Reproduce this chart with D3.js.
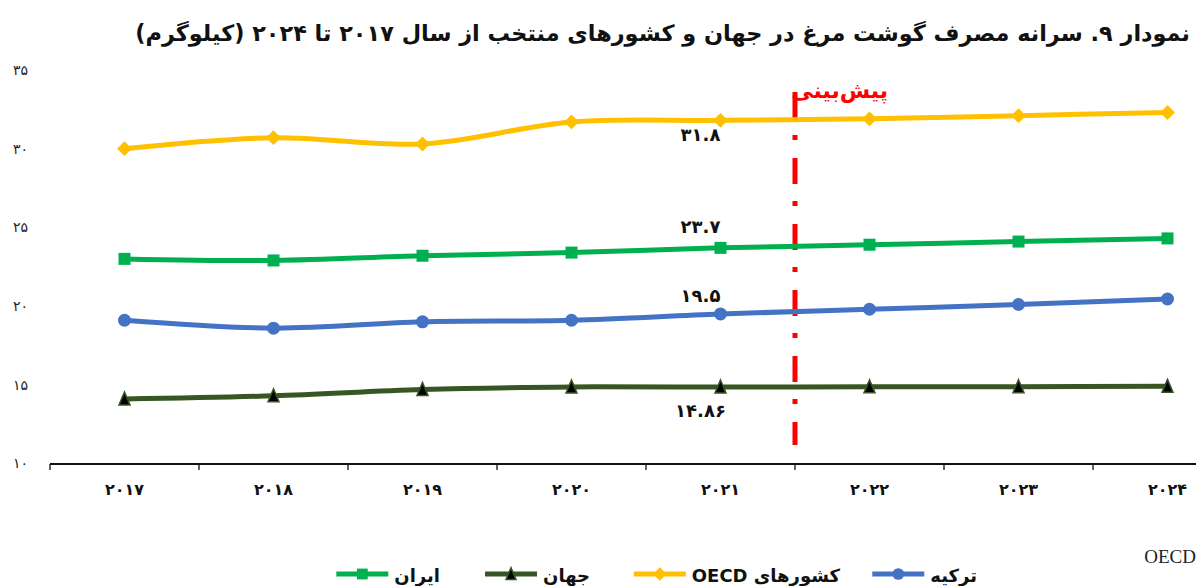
<!DOCTYPE html>
<html>
<head>
<meta charset="utf-8">
<style>
    body { margin: 0; background: white; }
    svg { display: block; }
    .x .domain { display: none; }
    .y .domain { display: none; }
    .y .tick line { display: none; }
    .x .tick line { display: none; }
    .y .tick text { font-size: 14px; fill: #222; font-family: 'DejaVu Sans', sans-serif; }
    .x .tick text { font-size: 16px; font-weight: bold; fill: #111; font-family: 'DejaVu Sans', sans-serif; }
</style>
</head>
<body>
<svg width="1196" height="586"></svg>

<script src="https://d3js.org/d3.v7.min.js"></script>
<script>
    // data
    let years = ["2017", "2018", "2019", "2020", "2021", "2022", "2023", "2024"];
    let oecd = [30.0, 30.7, 30.3, 31.7, 31.8, 31.9, 32.1, 32.3];
    let iran = [23.0, 22.9, 23.2, 23.4, 23.7, 23.9, 24.1, 24.3];
    let turkey = [19.1, 18.6, 19.0, 19.1, 19.5, 19.8, 20.1, 20.45];
    let world = [14.1, 14.3, 14.7, 14.86, 14.86, 14.87, 14.88, 14.9];
    let yTicks = [10, 15, 20, 25, 30, 35];
    let valueLabels = ["31.8", "23.7", "19.5", "14.86"];

    let fa = s => String(s).replace(/\d/g, d => "۰۱۲۳۴۵۶۷۸۹"[d]);
    let font = "'DejaVu Sans', sans-serif";

    let svg = d3.select("svg");

    // band is 149px wide, the last one runs off the right edge
    let x = d3.scaleBand().domain(years).range([50, 50 + 149 * years.length]);
    let y = d3.scaleLinear().domain([10, 35]).range([463.5, 70]);
    let cx = d => x(d) + x.bandwidth() / 2;

    let series = [
        { name: "ترکیه", values: turkey, color: "#4472C4", marker: "circle", label: valueLabels[2], dy: -12 },
        { name: "کشورهای OECD", values: oecd, color: "#FFC000", marker: "diamond", label: valueLabels[0], dy: 21 },
        { name: "جهان", values: world, color: "#375623", marker: "triangle", label: valueLabels[3], dy: 30 },
        { name: "ایران", values: iran, color: "#00B050", marker: "square", label: valueLabels[1], dy: -15 }
    ];

    // title, font size fitted so it spans about 1055px
    let title = svg.append("text")
        .text("نمودار ۹. سرانه مصرف گوشت مرغ در جهان و کشورهای منتخب از سال ۲۰۱۷ تا ۲۰۲۴ (کیلوگرم)")
        .attr("x", 1190)
        .attr("y", 41)
        .attr("direction", "rtl")
        .attr("text-anchor", "start")
        .attr("font-family", font)
        .attr("font-weight", "bold")
        .attr("font-size", "22px")
        .attr("fill", "#111");
    let tw = title.node().getComputedTextLength();
    title.attr("font-size", (22 * 1055 / tw).toFixed(2) + "px");

    // axes
    let yAxis = svg.append("g")
        .attr("class", "y axis")
        .attr("transform", "translate(28,0)")
        .call(d3.axisLeft(y).tickValues(yTicks).tickSize(0).tickPadding(0).tickFormat(fa));
    yAxis.selectAll("text").attr("text-anchor", "end");

    let xAxis = svg.append("g")
        .attr("class", "x axis")
        .attr("transform", "translate(0,464)")
        .call(d3.axisBottom(x).tickSize(0).tickPadding(20).tickFormat(fa));

    svg.append("line")
        .attr("x1", x.range()[0]).attr("x2", x.range()[1])
        .attr("y1", 464).attr("y2", 464)
        .style("stroke", "#111").style("stroke-width", 2.2);

    svg.selectAll(".xtick")
        .data(years.concat(["end"]))
        .join("line")
        .attr("class", "xtick")
        .attr("x1", (d, i) => x.range()[0] + i * x.bandwidth())
        .attr("x2", (d, i) => x.range()[0] + i * x.bandwidth())
        .attr("y1", 464).attr("y2", 470)
        .style("stroke", "#111").style("stroke-width", 1.3);

    // forecast divider
    svg.append("line")
        .attr("x1", x("2022")).attr("x2", x("2022"))
        .attr("y1", 92).attr("y2", 445)
        .style("stroke", "#FF0000")
        .style("stroke-width", 5)
        .style("stroke-dasharray", "26,17,5,18");

    svg.append("text").text("پیش‌بینی")
        .attr("x", 888).attr("y", 98)
        .attr("direction", "rtl")
        .attr("text-anchor", "start")
        .attr("font-family", font)
        .attr("font-weight", "bold")
        .attr("font-size", "22px")
        .attr("fill", "#FF0000");

    let line = d3.line()
        .x((d, i) => cx(years[i]))
        .y(d => y(d))
        .curve(d3.curveCatmullRom.alpha(0.5));

    function marker(g, type, color, s) {
        if (type === "circle") {
            g.append("circle").attr("r", 6.5 * s).style("fill", color);
        } else if (type === "square") {
            g.append("rect").attr("x", -6 * s).attr("y", -6 * s).attr("width", 12 * s).attr("height", 12 * s).style("fill", color);
        } else if (type === "diamond") {
            g.append("path").attr("d", d3.symbol(d3.symbolSquare, 110 * s * s)()).attr("transform", "rotate(45)").style("fill", color);
        } else {
            g.append("path").attr("d", `M0,${-7 * s}L${5.5 * s},${6 * s}L${-5.5 * s},${6 * s}Z`)
                .style("fill", "#000").style("stroke", color).style("stroke-width", 1.5);
        }
    }

    series.forEach(function (s) {
        svg.append("path")
            .attr("d", line(s.values))
            .style("fill", "none")
            .style("stroke", s.color)
            .style("stroke-width", 5);

        s.values.forEach(function (v, i) {
            let g = svg.append("g").attr("transform", `translate(${cx(years[i])},${y(v)})`);
            marker(g, s.marker, s.color, 1);
        });

        // value label at 2021
        svg.append("text").text(fa(s.label))
            .attr("x", cx("2021") - 20)
            .attr("y", y(s.values[4]) + s.dy)
            .attr("text-anchor", "middle")
            .attr("font-family", font)
            .attr("font-weight", "bold")
            .attr("font-size", "18px")
            .attr("fill", "#111");
    });

    // legend, right to left
    let legendX = [977, 840, 590, 440];
    series.forEach(function (s, i) {
        let t = svg.append("text").text(s.name)
            .attr("x", legendX[i]).attr("y", 582)
            .attr("direction", "rtl")
            .attr("text-anchor", "start")
            .attr("font-family", font)
            .attr("font-weight", "bold")
            .attr("font-size", "18px")
            .attr("fill", "#111");
        let w = t.node().getComputedTextLength();
        let x2 = legendX[i] - w - 6;
        svg.append("line")
            .attr("x1", x2 - 52).attr("x2", x2)
            .attr("y1", 574).attr("y2", 574)
            .style("stroke", s.color).style("stroke-width", 5);
        let g = svg.append("g").attr("transform", `translate(${x2 - 26},574)`);
        marker(g, s.marker, s.color, 0.9);
    });

    svg.append("text").text("OECD")
        .attr("x", 1196).attr("y", 563)
        .attr("text-anchor", "end")
        .attr("font-family", "'Liberation Serif', serif")
        .attr("font-size", "19px")
        .attr("fill", "#222");
</script>
</body>
</html>
